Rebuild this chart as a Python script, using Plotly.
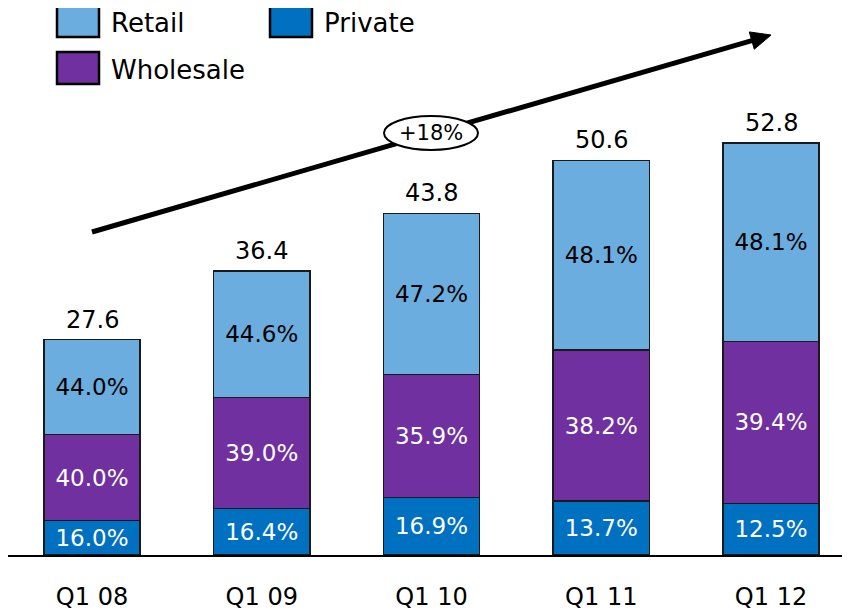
import plotly.graph_objects as go

categories = ["Q1 08", "Q1 09", "Q1 10", "Q1 11", "Q1 12"]
totals = [27.6, 36.4, 43.8, 50.6, 52.8]
private_pct = [16.0, 16.4, 16.9, 13.7, 12.5]
wholesale_pct = [40.0, 39.0, 35.9, 38.2, 39.4]
retail_pct = [44.0, 44.6, 47.2, 48.1, 48.1]
growth_label = "+18%"

OFF = 8  # page body margin
W, H = 850 - OFF, 611 - OFF
MB = 56
PH = H - MB  # plot height in px
FONT = "DejaVu Sans"
PXU = 169.75  # px per category
C0 = 92 - OFF  # first category centre in figure px

colors = {"Retail": "#6AADDE", "Wholesale": "#7030A0", "Private": "#0070C0"}
text_colors = {"Retail": "black", "Wholesale": "white", "Private": "white"}

fig = go.Figure()
for name, pct in [("Private", private_pct), ("Wholesale", wholesale_pct), ("Retail", retail_pct)]:
    vals = [t * p / 100 for t, p in zip(totals, pct)]
    fig.add_trace(go.Bar(
        x=categories, y=vals, name=name, customdata=pct,
        texttemplate="%{customdata:.1f}%", textposition="inside",
        insidetextanchor="middle", textangle=0,
        textfont=dict(family=FONT, size=23, color=text_colors[name]),
        marker=dict(color=colors[name], line=dict(color="#1a1a1a", width=1.5)),
        width=0.566, showlegend=False,
    ))

for c, t in zip(categories, totals):
    fig.add_annotation(x=c, y=t, text=f"{t:.1f}", showarrow=False, yanchor="bottom",
                       yshift=4, font=dict(family=FONT, size=24, color="black"))

def px(x):
    return (x - OFF) / W

def py(y):
    return 1 - (y - OFF) / PH

# trend arrow
x0, y0, xt, yt = 92, 232, 771, 35
dx, dy = xt - x0, yt - y0
L = (dx * dx + dy * dy) ** 0.5
ux, uy = dx / L, dy / L
hl, hw = 20, 9
bx, by = xt - hl * ux, yt - hl * uy
p1 = (bx + hw * (-uy), by + hw * ux)
p2 = (bx - hw * (-uy), by - hw * ux)
fig.add_shape(type="line", xref="paper", yref="paper", x0=px(x0), y0=py(y0), x1=px(bx), y1=py(by),
              line=dict(color="black", width=5))
fig.add_shape(type="path", xref="paper", yref="paper",
              path=f"M {px(xt)} {py(yt)} L {px(p1[0])} {py(p1[1])} L {px(p2[0])} {py(p2[1])} Z",
              fillcolor="black", line=dict(color="black", width=1))
fig.add_shape(type="circle", xref="paper", yref="paper", x0=px(384), x1=px(478), y0=py(150), y1=py(116),
              fillcolor="white", line=dict(color="black", width=2))
fig.add_annotation(xref="paper", yref="paper", x=px(431), y=py(133), text=growth_label, showarrow=False,
                   xanchor="center", yanchor="middle",
                   font=dict(family=FONT, size=21, color="black"))

# legend
legend_items = [("Retail", 57, 5), ("Private", 270, 5), ("Wholesale", 57, 52)]
for name, lx, ly in legend_items:
    fig.add_shape(type="rect", xref="paper", yref="paper", x0=px(lx), x1=px(lx + 42), y0=py(ly + 32), y1=py(ly),
                  fillcolor=colors[name], line=dict(color="black", width=2.5))
    fig.add_annotation(xref="paper", yref="paper", x=px(lx + 52), y=py(ly + 18), text=name, showarrow=False,
                       xanchor="left", yanchor="middle", font=dict(family=FONT, size=26, color="black"))

fig.update_layout(
    barmode="stack", width=W, height=H, plot_bgcolor="white", paper_bgcolor="white",
    margin=dict(l=0, r=0, t=0, b=MB),
)
fig.update_xaxes(range=[-C0 / PXU, (W - C0) / PXU], showline=True, linecolor="black", linewidth=2, ticks="",
                 tickfont=dict(family=FONT, size=24, color="black"), ticklabelstandoff=19, showgrid=False)
fig.update_yaxes(range=[0, PH / 7.8], visible=False, showgrid=False)

fig.write_html("out.html")
